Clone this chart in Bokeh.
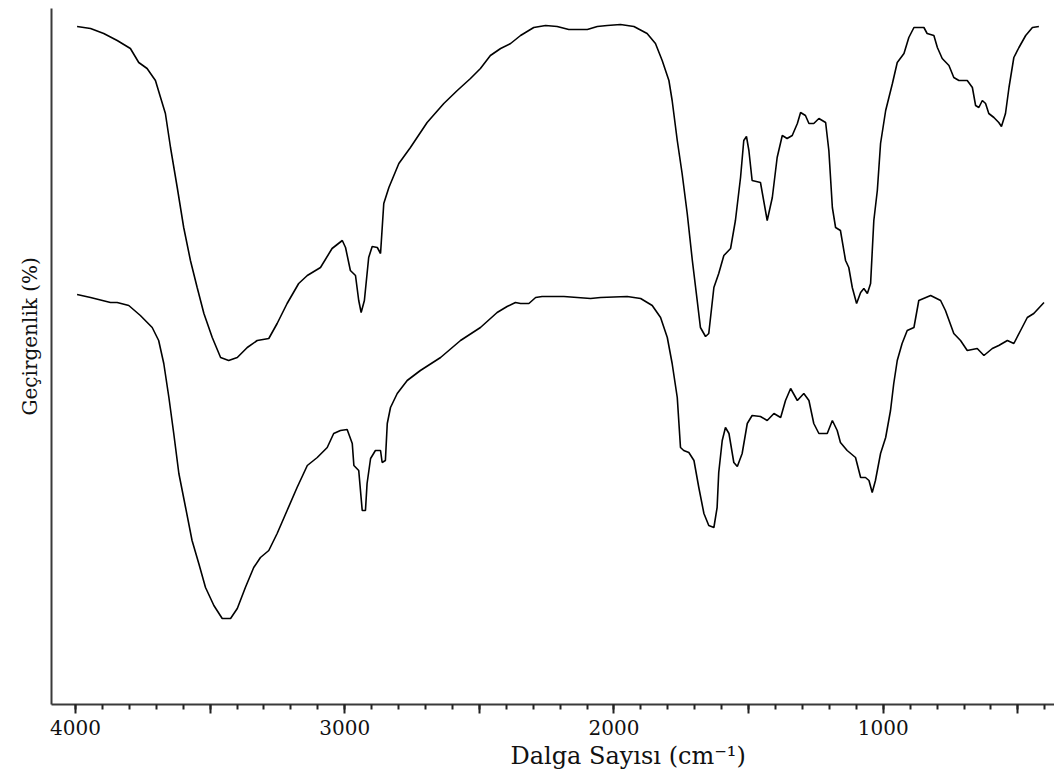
from bokeh.plotting import figure
from bokeh.models import Range1d, FixedTicker, Title
from bokeh.embed import file_html
from bokeh.resources import INLINE

# Upper spectrum: wavenumber (cm-1) and transmittance (arbitrary %, offset)
wn_top = [3994, 3944, 3895, 3845, 3796, 3765, 3734, 3703, 3684, 3666, 3647, 3622,
          3598, 3573, 3548, 3523, 3492, 3461, 3431, 3399, 3362, 3325, 3282, 3251,
          3214, 3171, 3139, 3090, 3047, 3009, 2997, 2979, 2960, 2948, 2939, 2927,
          2911, 2898, 2879, 2867, 2855, 2836, 2799, 2756, 2694, 2632, 2582, 2533,
          2496, 2459, 2421, 2384, 2347, 2298, 2254, 2211, 2168, 2099, 2062, 2025,
          1976, 1926, 1877, 1846, 1821, 1796, 1784, 1765, 1747, 1728, 1709, 1691,
          1679, 1660, 1648, 1629, 1611, 1592, 1567, 1549, 1530, 1518, 1508, 1499,
          1487, 1456, 1431, 1412, 1394, 1375, 1357, 1338, 1319, 1307, 1289, 1276,
          1258, 1239, 1214, 1202, 1189, 1177, 1159, 1140, 1128, 1115, 1099, 1084,
          1072, 1059, 1047, 1035, 1022, 1010, 991, 966, 948, 923, 905, 886,
          849, 837, 812, 799, 781, 756, 738, 719, 688, 669, 657, 645,
          632, 620, 608, 589, 571, 561, 546, 533, 515, 496, 471, 446, 422]
t_top = [67.8, 67.6, 67.1, 66.4, 65.6, 64.2, 63.6, 62.4, 60.7, 59.1, 55.7, 51.7,
         47.7, 44.4, 41.7, 39.1, 36.7, 34.7, 34.4, 34.7, 35.7, 36.4, 36.6, 38.1,
         40.1, 42.1, 42.9, 43.7, 45.6, 46.4, 45.7, 43.4, 42.9, 40.4, 39.2, 40.4,
         44.7, 45.8, 45.7, 45.1, 50.1, 51.7, 54.1, 55.7, 58.2, 60.1, 61.4, 62.6,
         63.6, 64.9, 65.6, 66.1, 66.9, 67.7, 67.9, 67.8, 67.5, 67.5, 67.8, 67.9,
         68.0, 67.8, 67.1, 66.1, 64.4, 62.4, 60.4, 56.4, 53.1, 49.1, 44.4, 40.4,
         37.7, 36.8, 37.1, 41.7, 43.1, 44.9, 45.6, 48.4, 52.7, 56.4, 56.8, 55.4,
         52.4, 52.2, 48.4, 50.7, 54.7, 56.9, 56.6, 56.9, 58.1, 59.2, 58.9, 58.1,
         58.1, 58.6, 58.2, 55.4, 49.7, 47.7, 47.4, 44.4, 43.7, 41.7, 40.1, 41.2,
         41.6, 41.1, 42.1, 48.4, 51.4, 56.1, 59.4, 62.1, 64.2, 65.1, 66.7, 67.7,
         67.7, 67.1, 66.9, 65.7, 64.6, 63.9, 62.7, 62.4, 62.4, 61.7, 59.9, 59.7,
         60.4, 60.1, 59.1, 58.7, 58.2, 57.8, 59.1, 61.7, 64.7, 65.7, 66.9, 67.7, 67.8]

# Lower spectrum
wn_bot = [3994, 3944, 3870, 3845, 3802, 3759, 3715, 3691, 3672, 3653, 3635, 3616,
          3591, 3567, 3542, 3517, 3486, 3455, 3424, 3399, 3369, 3338, 3313, 3282,
          3251, 3214, 3177, 3139, 3102, 3065, 3041, 3016, 2991, 2972, 2966, 2948,
          2935, 2923, 2917, 2904, 2886, 2867, 2861, 2849, 2842, 2830, 2805, 2768,
          2719, 2644, 2570, 2496, 2434, 2397, 2366, 2347, 2316, 2291, 2267, 2186,
          2087, 2050, 1951, 1901, 1858, 1827, 1802, 1784, 1765, 1753, 1741, 1722,
          1703, 1685, 1666, 1648, 1629, 1617, 1611, 1598, 1586, 1573, 1555, 1542,
          1524, 1505, 1487, 1456, 1431, 1406, 1381, 1363, 1344, 1319, 1295, 1276,
          1258, 1239, 1208, 1189, 1171, 1159, 1134, 1103, 1084, 1066, 1053, 1041,
          1029, 1010, 991, 973, 961, 948, 930, 911, 886, 868, 824, 787,
          769, 738, 713, 688, 651, 626, 595, 571, 539, 515, 490, 465, 441, 403]
t_bot = [41.0, 40.7, 40.2, 40.2, 39.9, 38.9, 37.7, 36.4, 34.1, 30.7, 27.1, 23.1,
         19.7, 16.4, 14.1, 11.7, 9.9, 8.6, 8.6, 9.6, 11.7, 13.7, 14.7, 15.4,
         17.1, 19.4, 21.7, 23.9, 24.7, 25.7, 27.1, 27.4, 27.5, 26.1, 23.9, 23.4,
         19.4, 19.4, 22.1, 24.6, 25.4, 25.4, 24.2, 24.4, 28.1, 29.7, 31.1, 32.4,
         33.4, 34.7, 36.4, 37.7, 39.2, 39.8, 40.2, 40.1, 40.1, 40.7, 40.8, 40.8,
         40.6, 40.7, 40.8, 40.6, 39.9, 38.7, 36.7, 34.1, 30.7, 25.7, 25.4, 25.2,
         24.4, 21.7, 19.1, 17.9, 17.7, 19.7, 23.2, 26.4, 27.7, 27.1, 24.2, 23.8,
         25.1, 28.1, 28.9, 28.8, 28.4, 29.1, 28.7, 30.4, 31.6, 30.4, 31.1, 30.4,
         28.1, 27.1, 27.1, 28.4, 27.4, 26.2, 25.4, 24.7, 22.7, 22.7, 22.4, 21.2,
         22.4, 25.1, 26.7, 29.4, 32.1, 34.4, 36.1, 37.4, 37.7, 40.4, 40.9, 40.4,
         39.4, 37.1, 36.4, 35.4, 35.6, 34.9, 35.6, 35.9, 36.4, 36.1, 37.4, 38.7, 39.1, 40.2]

major_ticks = [4000, 3500, 3000, 2500, 2000, 1500, 1000, 500]
minor_ticks = list(range(400, 4100, 100))
tick_labels = {4000: "4000", 3500: "", 3000: "3000", 2500: "", 2000: "2000",
               1500: "", 1000: "1000", 500: ""}
x_title = "Dalga Sayısı (cm⁻¹)"
y_title = "Geçirgenlik (%)"

p = figure(width=1054, height=774, output_backend="svg", toolbar_location=None,
           x_range=Range1d(4089, 364), y_range=Range1d(0, 69.6),
           min_border_left=51, min_border_right=0, min_border_top=8,
           min_border_bottom=70)
p.outline_line_color = None
p.grid.visible = False
p.background_fill_color = "white"
p.border_fill_color = "white"

p.line(wn_top, t_top, line_color="black", line_width=1.6)
p.line(wn_bot, t_bot, line_color="black", line_width=1.6)

ax = p.xaxis[0]
ax.ticker = FixedTicker(ticks=major_ticks, minor_ticks=minor_ticks)
ax.major_label_overrides = {k: v for k, v in tick_labels.items()}
ax.axis_line_color = "#3a3a3a"
ax.axis_line_width = 2
ax.major_tick_line_color = "#222222"
ax.major_tick_line_width = 2
ax.minor_tick_line_color = "#222222"
ax.minor_tick_line_width = 2
ax.major_tick_out = 9
ax.major_tick_in = 0
ax.minor_tick_out = 5
ax.minor_tick_in = 0
ax.major_label_standoff = 6
ax.major_label_text_font = "DejaVu Serif"
ax.major_label_text_font_size = "20px"
ax.major_label_text_color = "#111111"

ay = p.yaxis[0]
ay.ticker = FixedTicker(ticks=[])
ay.axis_line_color = "#3a3a3a"
ay.axis_line_width = 2
ay.major_tick_line_color = None
ay.minor_tick_line_color = None
ay.major_label_text_font_size = "0px"

p.add_layout(Title(text=x_title, align="left", offset=459, standoff=4,
                   text_font="DejaVu Serif", text_font_size="24px",
                   text_font_style="normal", text_color="#111111"), "below")
p.add_layout(Title(text=y_title, align="left", offset=289, standoff=19,
                   text_font="DejaVu Serif", text_font_size="20px",
                   text_font_style="normal", text_color="#111111"), "left")

open("out.html", "w").write(file_html(p, INLINE))
